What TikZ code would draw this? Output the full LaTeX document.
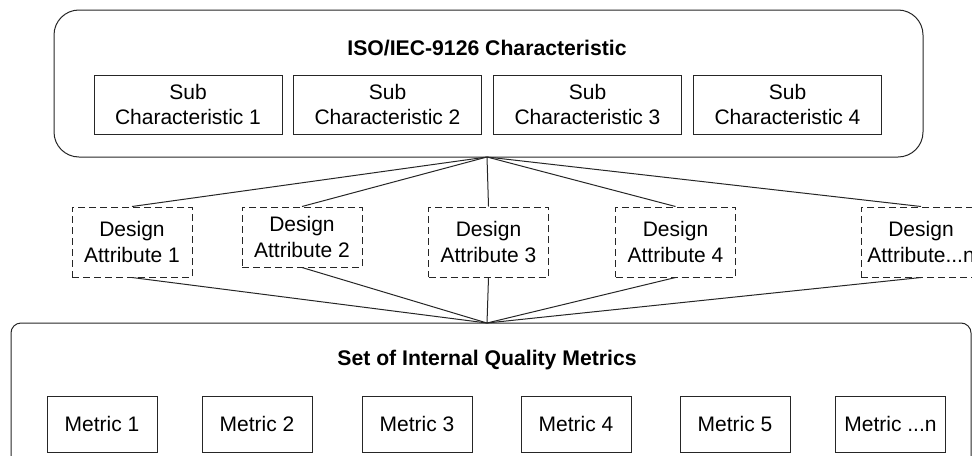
\documentclass[tikz,border=0pt]{standalone}
\usepackage{fontspec}
\setmainfont{Liberation Sans}
\begin{document}
\begin{tikzpicture}[x=0.5pt,y=-0.5pt,
  every node/.style={font=\fontsize{10.5pt}{12.6pt}\selectfont, align=center, inner sep=0pt},
  line/.style={draw=black!85, line width=0.5pt},
  subbox/.style={line, minimum width=94pt, minimum height=29.5pt},
  dabox/.style={line, dash pattern=on 3.5pt off 2pt, minimum width=60pt, minimum height=35pt},
  metbox/.style={line, minimum width=55pt, minimum height=28pt},
  title/.style={font=\fontsize{10.6pt}{12.6pt}\selectfont\bfseries}
]
\useasboundingbox (0,0) rectangle (972,455);
\clip (0,0) rectangle (972,455);
% top container
\node[line, rounded corners=12.5pt, minimum width=434.5pt, minimum height=73.5pt] (charbox) at (488.5,83.5) {};
\node[title] (chartitle) at (487,48) {ISO/IEC-9126 Characteristic};
\node[subbox] (sc1) at (188,104.5) {Sub\\Characteristic 1};
\node[subbox] (sc2) at (387.5,104.5) {Sub\\Characteristic 2};
\node[subbox] (sc3) at (587.5,104.5) {Sub\\Characteristic 3};
\node[subbox] (sc4) at (787.5,104.5) {Sub\\Characteristic 4};
\coordinate (fanT) at (487,157);
% design attributes
\node[dabox] (da1) at (132,242) {Design\\Attribute 1};
\node[dabox, minimum height=30pt] (da2) at (302,237) {Design\\Attribute 2};
\node[dabox] (da3) at (488.5,242) {Design\\Attribute 3};
\node[dabox] (da4) at (675.5,242) {Design\\Attribute 4};
\node[dabox] (da5) at (921,242) {Design\\Attribute...n};
% bottom container
\node[line, rounded corners=5pt, minimum width=480pt, minimum height=73.5pt] (metbox) at (491,396.5) {};
\node[title] (mettitle) at (487,360) {Set of Internal Quality Metrics};
\coordinate (fanB) at (487,323);
\node[metbox] (m1) at (102,424) {Metric 1};
\node[metbox] (m2) at (257,424) {Metric 2};
\node[metbox] (m3) at (417,424) {Metric 3};
\node[metbox] (m4) at (576,424) {Metric 4};
\node[metbox] (m5) at (735,424) {Metric 5};
\node[metbox] (m6) at (890.5,424) {Metric ...n};
% connectors
\foreach \d in {da1,da2,da3,da4,da5}{
  \draw[line] (fanT) -- (\d.north);
  \draw[line] (\d.south) -- (fanB);
}
\end{tikzpicture}
\end{document}
